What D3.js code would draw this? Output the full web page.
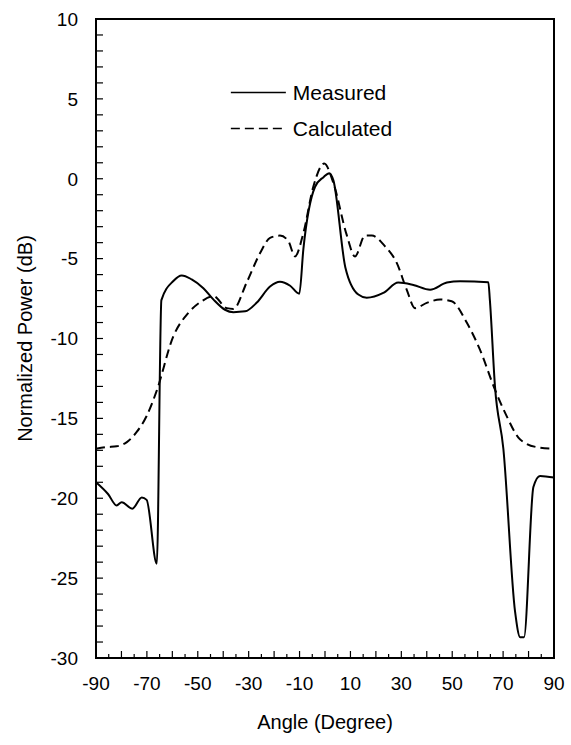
<!DOCTYPE html>
<html>
<head>
<meta charset="utf-8">
<script src="https://cdnjs.cloudflare.com/ajax/libs/d3/7.8.5/d3.min.js"></script>
<style>
    body { margin: 0; background: #fff; }
    svg { display: block; font-family: "Liberation Sans", Arial, Helvetica, sans-serif; }
</style>
</head>
<body>
<svg width="571" height="745"></svg>
<script>
// measured pattern (angle in degree, power in dB)
var measuredAngle = [-90, -85.2, -81.9, -79.9, -75.7, -72, -70.1, -66.1, -64.3, -59.6, -56.3, -52.4, -47.8, -43.9,
    -39.3, -36, -31.4, -26.8, -21.6, -17.7, -13.7, -10.1, -8.5, -3.9, -0.6, 1.7, 3.3, 8, 13.1, 16.4, 22.9, 28.8,
    34.7, 41.3, 47.9, 53.1, 64.2, 64.8, 66.8, 70.1, 74.7, 76.7, 78.2, 81.9, 84.5, 90];
var measuredPower = [-19.0, -19.75, -20.45, -20.25, -20.65, -19.95, -20.1, -24.1, -7.6, -6.4, -6.05, -6.3, -6.85, -7.55,
    -8.2, -8.35, -8.3, -7.75, -6.75, -6.45, -6.7, -7.2, -4.4, -0.5, 0.1, 0.35, -0.1, -5.55, -7.25, -7.45, -7.15, -6.5,
    -6.65, -6.95, -6.5, -6.42, -6.48, -7.6, -13, -16.9, -27.1, -28.7, -28.7, -19.3, -18.6, -18.7];

// calculated pattern
var calcAngle = [-90, -85.8, -81.9, -78, -74, -70.1, -66.2, -59.6, -53.7, -48.5, -43.9, -38.6, -36, -30.8, -25.5,
    -21.6, -17.7, -14.4, -11.8, -8.5, -4.6, -0.3, 3.3, 8.5, 11.8, 15.7, 18.4, 23.6, 28.2, 32.1, 35.4, 40, 45.2,
    49.8, 55.7, 60.9, 66.8, 71.4, 76, 79.3, 83.2, 90];
var calcPower = [-16.9, -16.8, -16.75, -16.5, -15.85, -14.85, -13.3, -9.86, -8.4, -7.67, -7.35, -8.1, -8.15, -6.5, -4.65,
    -3.7, -3.56, -3.9, -4.86, -3.4, -0.5, 0.95, -0.27, -3.5, -4.86, -3.56, -3.56, -4.23, -5.27, -6.94, -8.1, -7.77, -7.56,
    -7.67, -9, -10.7, -13.2, -14.86, -16.2, -16.6, -16.8, -16.9];

var xTickLabels = [-90, -70, -50, -30, -10, 10, 30, 50, 70, 90];
var yTickLabels = [10, 5, 0, -5, -10, -15, -20, -25, -30];
var seriesNames = ["Measured", "Calculated"];

var svg = d3.select("svg"),
    margin = { top: 19, right: 17, bottom: 87, left: 96 },
    width = +svg.attr("width") - margin.left - margin.right,
    height = +svg.attr("height") - margin.top - margin.bottom;

var x = d3.scaleLinear().domain([-90, 90]).range([0, width]),
    y = d3.scaleLinear().domain([-30, 10]).range([height, 0]);

var g = svg.append("g")
    .attr("transform", "translate(" + margin.left + "," + margin.top + ")");

// minor ticks, drawn inward
g.append("g")
    .selectAll("line")
    .data(d3.range(-85, 90, 5))
    .enter().append("line")
    .attr("x1", function(d) { return x(d); })
    .attr("x2", function(d) { return x(d); })
    .attr("y1", height)
    .attr("y2", function(d) { return height - (d % 10 === 0 ? 7 : 4); })
    .attr("stroke", "#000").attr("stroke-width", 1.2);

g.append("g")
    .selectAll("line")
    .data(d3.range(-29, 10, 1))
    .enter().append("line")
    .attr("x1", 0)
    .attr("x2", 7)
    .attr("y1", function(d) { return y(d); })
    .attr("y2", function(d) { return y(d); })
    .attr("stroke", "#000").attr("stroke-width", 1.2);

// tick labels
g.append("g")
    .selectAll("text")
    .data(xTickLabels)
    .enter().append("text")
    .attr("x", function(d) { return x(d); })
    .attr("y", height + 32)
    .attr("text-anchor", "middle")
    .attr("font-size", 19)
    .text(function(d) { return d; });

g.append("g")
    .selectAll("text")
    .data(yTickLabels)
    .enter().append("text")
    .attr("x", -18)
    .attr("y", function(d) { return y(d); })
    .attr("dy", "0.36em")
    .attr("text-anchor", "end")
    .attr("font-size", 19)
    .text(function(d) { return d; });

// axis titles
g.append("text")
    .attr("x", width / 2)
    .attr("y", height + 71)
    .attr("text-anchor", "middle")
    .attr("font-size", 20)
    .text("Angle (Degree)");

g.append("text")
    .attr("transform", "translate(-64," + (height / 2) + ") rotate(-90)")
    .attr("text-anchor", "middle")
    .attr("font-size", 20)
    .text("Normalized Power (dB)");

// lines
var line = d3.line()
    .x(function(d) { return x(d[0]); })
    .y(function(d) { return y(d[1]); })
    .curve(d3.curveMonotoneX);

var measured = d3.zip(measuredAngle, measuredPower),
    calculated = d3.zip(calcAngle, calcPower);

g.append("path")
    .datum(calculated)
    .attr("fill", "none")
    .attr("stroke", "#000")
    .attr("stroke-width", 2)
    .attr("stroke-dasharray", "9,5")
    .attr("d", line);

g.append("path")
    .datum(measured)
    .attr("fill", "none")
    .attr("stroke", "#000")
    .attr("stroke-width", 2)
    .attr("stroke-linejoin", "round")
    .attr("d", line);

// frame
g.append("rect")
    .attr("width", width)
    .attr("height", height)
    .attr("fill", "none")
    .attr("stroke", "#000")
    .attr("stroke-width", 2);

// legend
var legend = g.append("g")
    .attr("transform", "translate(" + (x(-37)) + "," + (y(5.4)) + ")");

legend.selectAll("line")
    .data(seriesNames)
    .enter().append("line")
    .attr("x1", 0)
    .attr("x2", 55)
    .attr("y1", function(d, i) { return i * 36; })
    .attr("y2", function(d, i) { return i * 36; })
    .attr("stroke", "#000")
    .attr("stroke-width", 1.5)
    .attr("stroke-dasharray", function(d, i) { return i ? "9,5" : null; });

legend.selectAll("text")
    .data(seriesNames)
    .enter().append("text")
    .attr("x", 62)
    .attr("y", function(d, i) { return i * 36; })
    .attr("dy", "0.36em")
    .attr("font-size", 21)
    .text(function(d) { return d; });
</script>
</body>
</html>
